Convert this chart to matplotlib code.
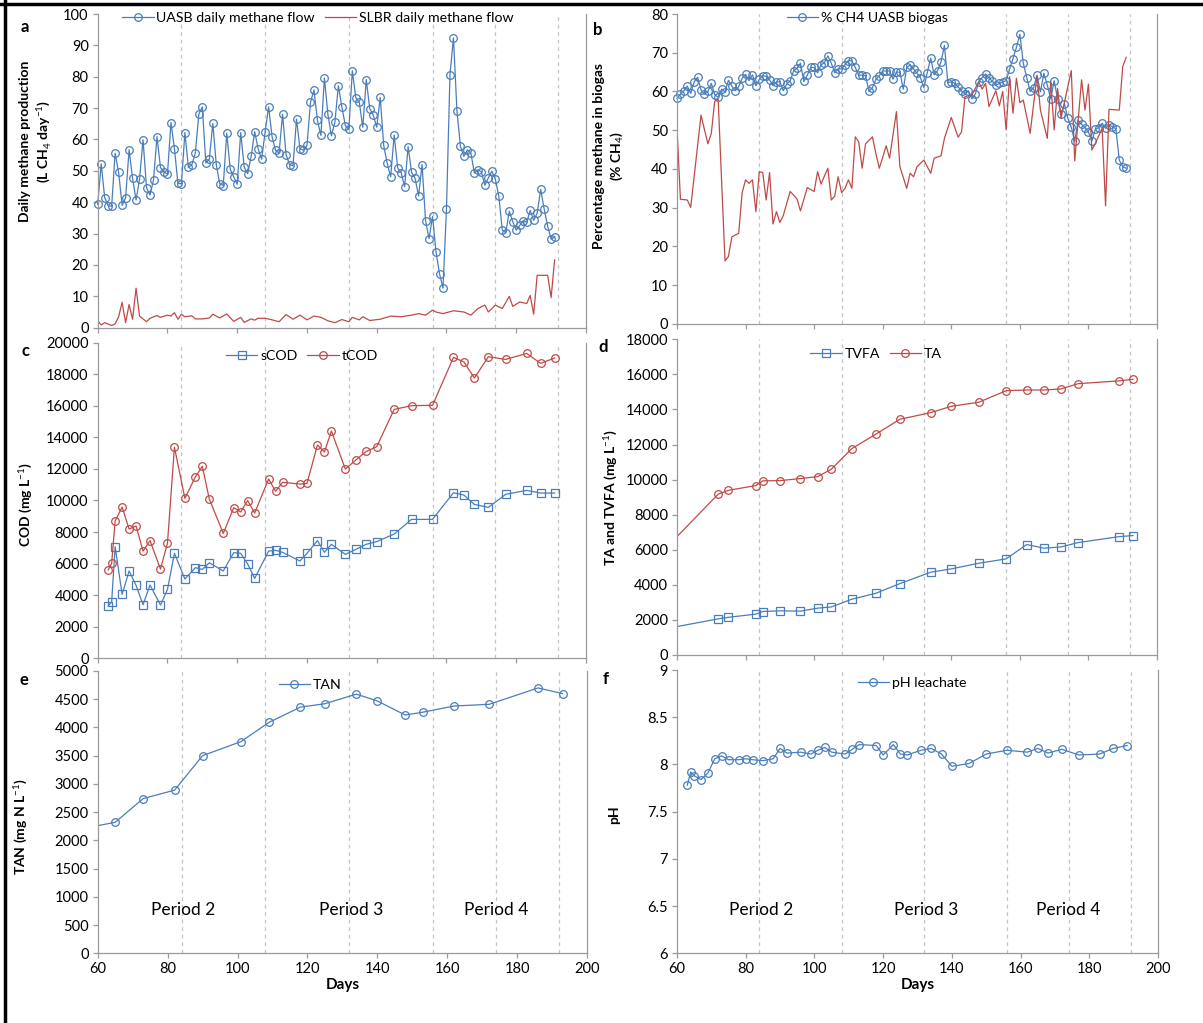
import numpy as np
import matplotlib
matplotlib.use("Agg")
import matplotlib.pyplot as plt
from matplotlib.lines import Line2D

plt.rcParams['font.family'] = ['Lato', 'DejaVu Sans']
plt.rcParams['mathtext.fontset'] = 'custom'
plt.rcParams['mathtext.rm'] = 'Lato'
plt.rcParams['mathtext.bf'] = 'Lato:bold'

# ---- data ----
# daily UASB methane flow, days 60..191
uasb_days = np.arange(60, 192)
uasb_flow = [39.3, 52.2, 41.5, 38.9, 38.7, 55.6, 49.5, 39.0, 41.4, 56.7,
             47.6, 40.7, 47.4, 59.9, 44.6, 42.3, 47.1, 60.9, 51.0, 49.7,
             48.9, 65.4, 57.1, 46.0, 45.9, 62.2, 51.1, 52.0, 55.7, 68.1,
             70.4, 52.5, 53.7, 65.1, 51.9, 45.9, 45.3, 62.0, 50.5, 48.1,
             45.7, 62.2, 51.2, 49.1, 54.6, 62.5, 57.0, 53.7, 62.4, 70.4,
             60.8, 56.5, 55.7, 68.0, 55.2, 52.0, 51.6, 66.5, 57.0, 56.6,
             58.1, 71.8, 75.8, 66.1, 61.3, 79.6, 68.0, 61.2, 65.5, 77.1,
             70.4, 64.4, 63.2, 81.9, 73.3, 71.8, 63.9, 79.1, 69.8, 67.8,
             63.9, 73.4, 58.1, 52.4, 48.1, 61.4, 51.0, 49.4, 44.9, 57.7,
             49.5, 47.6, 42.0, 52.0, 34.1, 28.4, 35.5, 24.1, 17.2, 12.6,
             37.9, 80.6, 92.4, 69.0, 57.8, 54.6, 56.7, 55.6, 49.3, 50.3,
             49.7, 45.4, 47.7, 49.9, 47.4, 42.0, 31.1, 30.3, 37.1, 33.8,
             31.1, 32.6, 34.1, 33.6, 37.4, 34.2, 36.5, 44.1, 37.9, 32.4,
             28.2, 28.9]

slbr_flow_days = [60, 61, 62, 64, 65, 66, 67, 68, 69, 70, 71, 72, 74, 75, 77, 78, 80, 81,
                  82, 83, 84, 85, 87, 88, 90, 92, 93, 95, 97, 99, 101, 102, 104, 105,
                  106, 108, 110, 112, 114, 116, 118, 120, 122, 124, 126, 128, 130, 132,
                  133, 135, 136, 138, 141, 144, 147, 150, 152, 154, 156, 157, 159, 162,
                  165, 167, 169, 171, 172, 174, 176, 178, 179, 181, 183, 184, 185, 186,
                  189, 190, 191]
slbr_flow = [2.2, 0.9, 1.6, 0.7, 1.2, 3.5, 8.1, 1.6, 7.4, 2.7, 12.6, 3.7, 1.9, 3.0, 3.9, 3.3,
             4.0, 3.7, 4.8, 2.7, 4.3, 3.5, 3.8, 2.8, 2.8, 3.1, 4.3, 3.1, 4.4, 2.0, 3.3, 1.7,
             2.8, 2.4, 3.0, 3.0, 2.5, 1.9, 4.2, 2.7, 4.0, 2.5, 3.7, 3.3, 2.2, 1.6, 2.6, 1.9,
             3.3, 2.5, 3.5, 2.3, 2.7, 3.7, 3.5, 4.0, 4.5, 4.0, 5.6, 5.0, 4.5, 5.4, 5.0, 4.0,
             6.1, 7.2, 5.0, 7.2, 6.1, 10.0, 6.8, 8.2, 7.7, 10.3, 4.3, 16.7, 16.7, 9.6, 21.6]

# % CH4 in biogas
uasb_pct = [58.2, 59.3, 60.2, 61.4, 59.5, 62.4, 63.7, 60.4, 59.3, 60.0,
            62.1, 59.2, 58.5, 60.6, 59.9, 62.9, 61.4, 60.2, 61.3, 63.4,
            64.4, 62.8, 64.3, 61.5, 63.1, 64.1, 63.9, 63.0, 61.5, 62.5,
            62.5, 60.2, 61.9, 62.7, 65.3, 66.0, 67.3, 62.6, 64.2, 66.2,
            66.2, 64.8, 66.9, 67.4, 69.2, 67.3, 64.8, 65.9, 65.8, 66.9,
            68.0, 67.9, 66.2, 64.2, 64.2, 64.1, 60.0, 61.0, 63.1, 64.1,
            65.3, 65.3, 65.3, 63.2, 65.0,
            65.0, 60.6, 66.2, 66.8, 65.8, 64.7, 63.6, 61.0, 64.9, 68.6,
            64.3, 65.4, 67.6, 71.9, 62.3, 62.5, 62.1, 61.2, 60.1, 59.3,
            60.2, 58.1, 59.3, 62.5, 63.6, 64.5, 63.5, 62.6, 61.6, 62.1,
            62.4, 62.8, 65.8, 68.5, 71.4, 74.8, 67.3, 63.6, 60.0, 61.0,
            64.2, 59.9, 64.7, 61.7, 58.1, 62.8, 58.1, 54.2, 56.8, 53.1,
            50.8, 47.1, 52.6, 51.5, 50.7, 49.5, 47.2, 50.2, 50.7, 51.8,
            50.5, 51.4, 50.9, 50.4, 42.3, 40.6, 40.2]

slbr_pct_days = [60, 61, 63, 64, 67, 69, 70, 71, 72, 74, 75, 76, 78, 79, 80, 81, 82, 83, 84,
                 85, 86, 87, 88, 89, 90, 91, 93, 95, 96, 98, 100, 101, 102, 103, 104, 105,
                 106, 107, 108, 109, 110, 111, 112, 113, 114, 115, 117, 118, 119, 120, 121,
                 122, 124, 125, 127, 128, 129, 130, 132, 134, 135, 137, 138, 140, 142, 143,
                 144, 146, 148, 149, 150, 151, 153, 154, 155, 156, 157, 158, 159, 160, 161,
                 163, 165, 166, 168, 169, 170, 171, 172, 175, 176, 178, 179, 180, 181, 182,
                 184, 185, 186, 189, 190, 191]
slbr_pct = [50.5, 32.2, 32.0, 30.1, 53.9, 46.5, 49.2, 57.5, 58.0, 16.3, 17.4, 22.5, 23.4,
            33.9, 37.2, 36.3, 37.2, 29.0, 39.3, 39.1, 32.0, 39.1, 25.8, 29.0, 26.2, 28.0,
            34.2, 32.3, 29.2, 35.2, 34.2, 39.3, 36.1, 38.2, 40.2, 32.0, 33.0, 38.0, 33.9,
            35.0, 37.2, 35.0, 48.3, 47.0, 40.2, 46.5, 48.3, 44.0, 40.2, 43.0, 46.0, 42.8,
            54.8, 40.6, 35.0, 38.9, 38.0, 40.6, 42.3, 38.9, 42.8, 43.4, 47.9, 53.3, 48.2,
            49.6, 58.7, 59.1, 62.5, 60.6, 62.1, 56.1, 60.2, 56.3, 60.0, 50.1, 63.8, 54.4,
            63.4, 57.1, 57.8, 49.2, 64.0, 55.2, 47.9, 62.5, 50.1, 60.8, 53.1, 65.4, 42.1,
            63.0, 55.2, 61.9, 44.9, 46.6, 50.5, 30.5, 55.4, 55.2, 66.4, 68.8]

# leachate sampling days (COD, pH)
leach_days = [63, 64, 65, 67, 69, 71, 73, 75, 78, 80, 82, 85, 88, 90, 92, 96, 99, 101, 103,
              105, 109, 111, 113, 118, 120, 123, 125, 127, 131, 134, 137, 140, 145, 150,
              156, 162, 165, 168, 172, 177, 183, 187, 191]
scod = [3310, 3580, 7070, 4050, 5530, 4620, 3390, 4640, 3370, 4360, 6650, 5020, 5740, 5630,
        6050, 5530, 6690, 6650, 5970, 5060, 6790, 6840, 6710, 6160, 6650, 7450, 6710, 7220,
        6580, 6900, 7220, 7390, 7870, 8800, 8800, 10490, 10340, 9750, 9560, 10390, 10640,
        10470, 10470]
tcod = [5590, 6010, 8700, 9580, 8190, 8380, 6790, 7450, 5650, 7280, 13370, 10130, 11490,
        12160, 10090, 7910, 9540, 9270, 9990, 9200, 11360, 10580, 11150, 11040, 11080, 13510,
        13070, 14400, 11990, 12560, 13110, 13410, 15770, 16010, 16030, 19070, 18780, 17760,
        19110, 18940, 19320, 18690, 19030]
ph = [7.78, 7.92, 7.88, 7.84, 7.91, 8.06, 8.09, 8.05, 8.05, 8.06, 8.05, 8.04, 8.06, 8.17,
      8.12, 8.13, 8.11, 8.15, 8.18, 8.13, 8.11, 8.16, 8.21, 8.20, 8.10, 8.21, 8.11, 8.10,
      8.15, 8.17, 8.11, 7.98, 8.01, 8.11, 8.15, 8.13, 8.17, 8.12, 8.16, 8.10, 8.11, 8.17, 8.20]

# alkalinity / VFA (first entry is where the line enters at day 60)
alk_days = [60, 72, 75, 83, 85, 90, 96, 101, 105, 111, 118, 125, 134, 140, 148, 156, 162,
            167, 172, 177, 189, 193]
ta = [6750, 9170, 9390, 9660, 9930, 9940, 10060, 10170, 10590, 11770, 12590, 13440, 13820,
      14180, 14410, 15070, 15110, 15110, 15170, 15470, 15630, 15720]
tvfa = [1620, 2060, 2150, 2330, 2480, 2520, 2500, 2670, 2740, 3180, 3520, 4070, 4720, 4910,
        5230, 5480, 6300, 6090, 6160, 6410, 6750, 6810]

tan_days = [60, 65, 73, 82, 90, 101, 109, 118, 125, 134, 140, 148, 153, 162, 172, 186, 193]
tan = [2260, 2320, 2740, 2890, 3500, 3750, 4090, 4360, 4420, 4590, 4470, 4220, 4270, 4380,
       4410, 4700, 4600]

period_lines = [84, 108, 132, 156, 174, 192]
period_labels = ["Period 2", "Period 3", "Period 4"]
period_label_days = [84.5, 132.5, 174]

BLUE = '#4A7EBB'
RED = '#BE4B48'
GREY = '#9a9a9a'

W, H = 1203, 1023
fig = plt.figure(figsize=(W / 100, H / 100), dpi=100)


def px(x, y):
    return x / W, 1 - y / H


def make_ax(x0, x1, ytop, ybot):
    ax = fig.add_axes([x0 / W, 1 - ybot / H, (x1 - x0) / W, (ybot - ytop) / H])
    for s in ['left', 'bottom', 'right']:
        ax.spines[s].set_color(GREY)
        ax.spines[s].set_linewidth(0.9)
    ax.spines['top'].set_visible(False)
    ax.tick_params(direction='out', length=3.5, width=0.9, color=GREY,
                   labelsize=10.5, pad=3)
    ax.tick_params(axis='y', right=False)
    ax.set_xlim(60, 200)
    ax.set_xticks(np.arange(60, 201, 20))
    for d in period_lines:
        ax.axvline(d, color='#c4c4c4', lw=0.9, ls=(0, (3, 3)), zorder=0)
    return ax


def legend(ax, cx, cy):
    ax.legend(loc='center', bbox_to_anchor=px(cx, cy), bbox_transform=fig.transFigure,
              ncol=2, frameon=False, fontsize=10.2, handlelength=2.2, handletextpad=0.2,
              columnspacing=0.7, borderpad=0)


def ylab(text, x, y):
    fig.text(*px(x, y), text, rotation=90, ha='center', va='center',
             fontsize=10, fontweight='bold', linespacing=1.25)


def letter(t, x, y):
    fig.text(*px(x, y), t, ha='center', va='center', fontsize=12, fontweight='bold')


mk = dict(marker='o', mfc='none', ms=5.5, mew=0.9, lw=0.9)
sq = dict(marker='s', mfc='none', ms=5.5, mew=0.9, lw=0.9)

# a) daily methane production
ax = make_ax(97.7, 586, 14, 327.7)
ax.plot(uasb_days, uasb_flow, color=BLUE, label='UASB daily methane flow',
        clip_on=False, **mk)
ax.plot(slbr_flow_days, slbr_flow, color=RED, lw=0.9, label='SLBR daily methane flow')
ax.set_ylim(0, 100)
ax.set_yticks(np.arange(0, 101, 10))
ax.set_xticklabels([])
legend(ax, 318, 18)
ylab('Daily methane production\n(L CH$_4$ day$^{-1}$)', 36, 141)
letter('a', 25, 27)

# b) methane content
ax = make_ax(677, 1157, 14, 324)
ax.plot(uasb_days, uasb_pct, color=BLUE, label='% CH4 UASB biogas', clip_on=False, **mk)
ax.plot(slbr_pct_days, slbr_pct, color=RED, lw=0.9)
ax.set_ylim(0, 80)
ax.set_yticks(np.arange(0, 81, 10))
ax.set_xticklabels([])
legend(ax, 867, 18)
ylab('Percentage methane in biogas\n(% CH$_4$)', 609, 156)
letter('b', 598, 30)

# c) COD
ax = make_ax(97.7, 586, 342.7, 658.2)
ax.plot(leach_days, scod, color=BLUE, label='sCOD', **sq)
ax.plot(leach_days, tcod, color=RED, label='tCOD', **mk)
ax.set_ylim(0, 20000)
ax.set_yticks(np.arange(0, 20001, 2000))
ax.set_xticklabels([])
legend(ax, 302, 356)
ylab('COD (mg L$^{-1}$)', 25, 505)
letter('c', 25, 351)

# d) TA and TVFA
ax = make_ax(677, 1157, 339.3, 655)
ax.plot(alk_days, tvfa, color=BLUE, label='TVFA', markevery=slice(1, None), **sq)
ax.plot(alk_days, ta, color=RED, label='TA', markevery=slice(1, None), **mk)
ax.set_ylim(0, 18000)
ax.set_yticks(np.arange(0, 18001, 2000))
ax.set_xticklabels([])
legend(ax, 876, 354)
ylab('TA and TVFA (mg L$^{-1}$)', 610, 498)
letter('d', 603, 347)

# e) TAN
ax = make_ax(97.7, 587, 671, 953.3)
ax.plot(tan_days, tan, color=BLUE, label='TAN', markevery=slice(1, None), **mk)
ax.set_ylim(0, 5000)
ax.set_yticks(np.arange(0, 5001, 500))
legend(ax, 310, 685)
ax.set_xlabel('Days', fontsize=11, fontweight='bold', labelpad=1)
for d, t in zip(period_label_days, period_labels):
    ax.text(d, 770, t, ha='center', va='center', fontsize=12.5)
ylab('TAN (mg N L$^{-1}$)', 20, 827)
letter('e', 24, 680)

# f) pH
ax = make_ax(677, 1158, 670, 953.3)
ax.plot(leach_days, ph, color=BLUE, label='pH leachate', **mk)
ax.set_ylim(6, 9)
ax.set_yticks(np.arange(6, 9.01, 0.5))
ax.set_yticklabels(['6', '6.5', '7', '7.5', '8', '8.5', '9'])
legend(ax, 912, 683)
ax.set_xlabel('Days', fontsize=11, fontweight='bold', labelpad=1)
for d, t in zip(period_label_days, period_labels):
    ax.text(d, 6.46, t, ha='center', va='center', fontsize=12.5)
ylab('pH', 614, 815)
letter('f', 606, 679)

# outer frame on top and left edges
fig.add_artist(Line2D([0, 1], [1 - 3.5 / H] * 2, color='k', lw=2.5))
fig.add_artist(Line2D([5 / W] * 2, [0, 1], color='k', lw=2.5))

fig.savefig('out.png', dpi=100)
